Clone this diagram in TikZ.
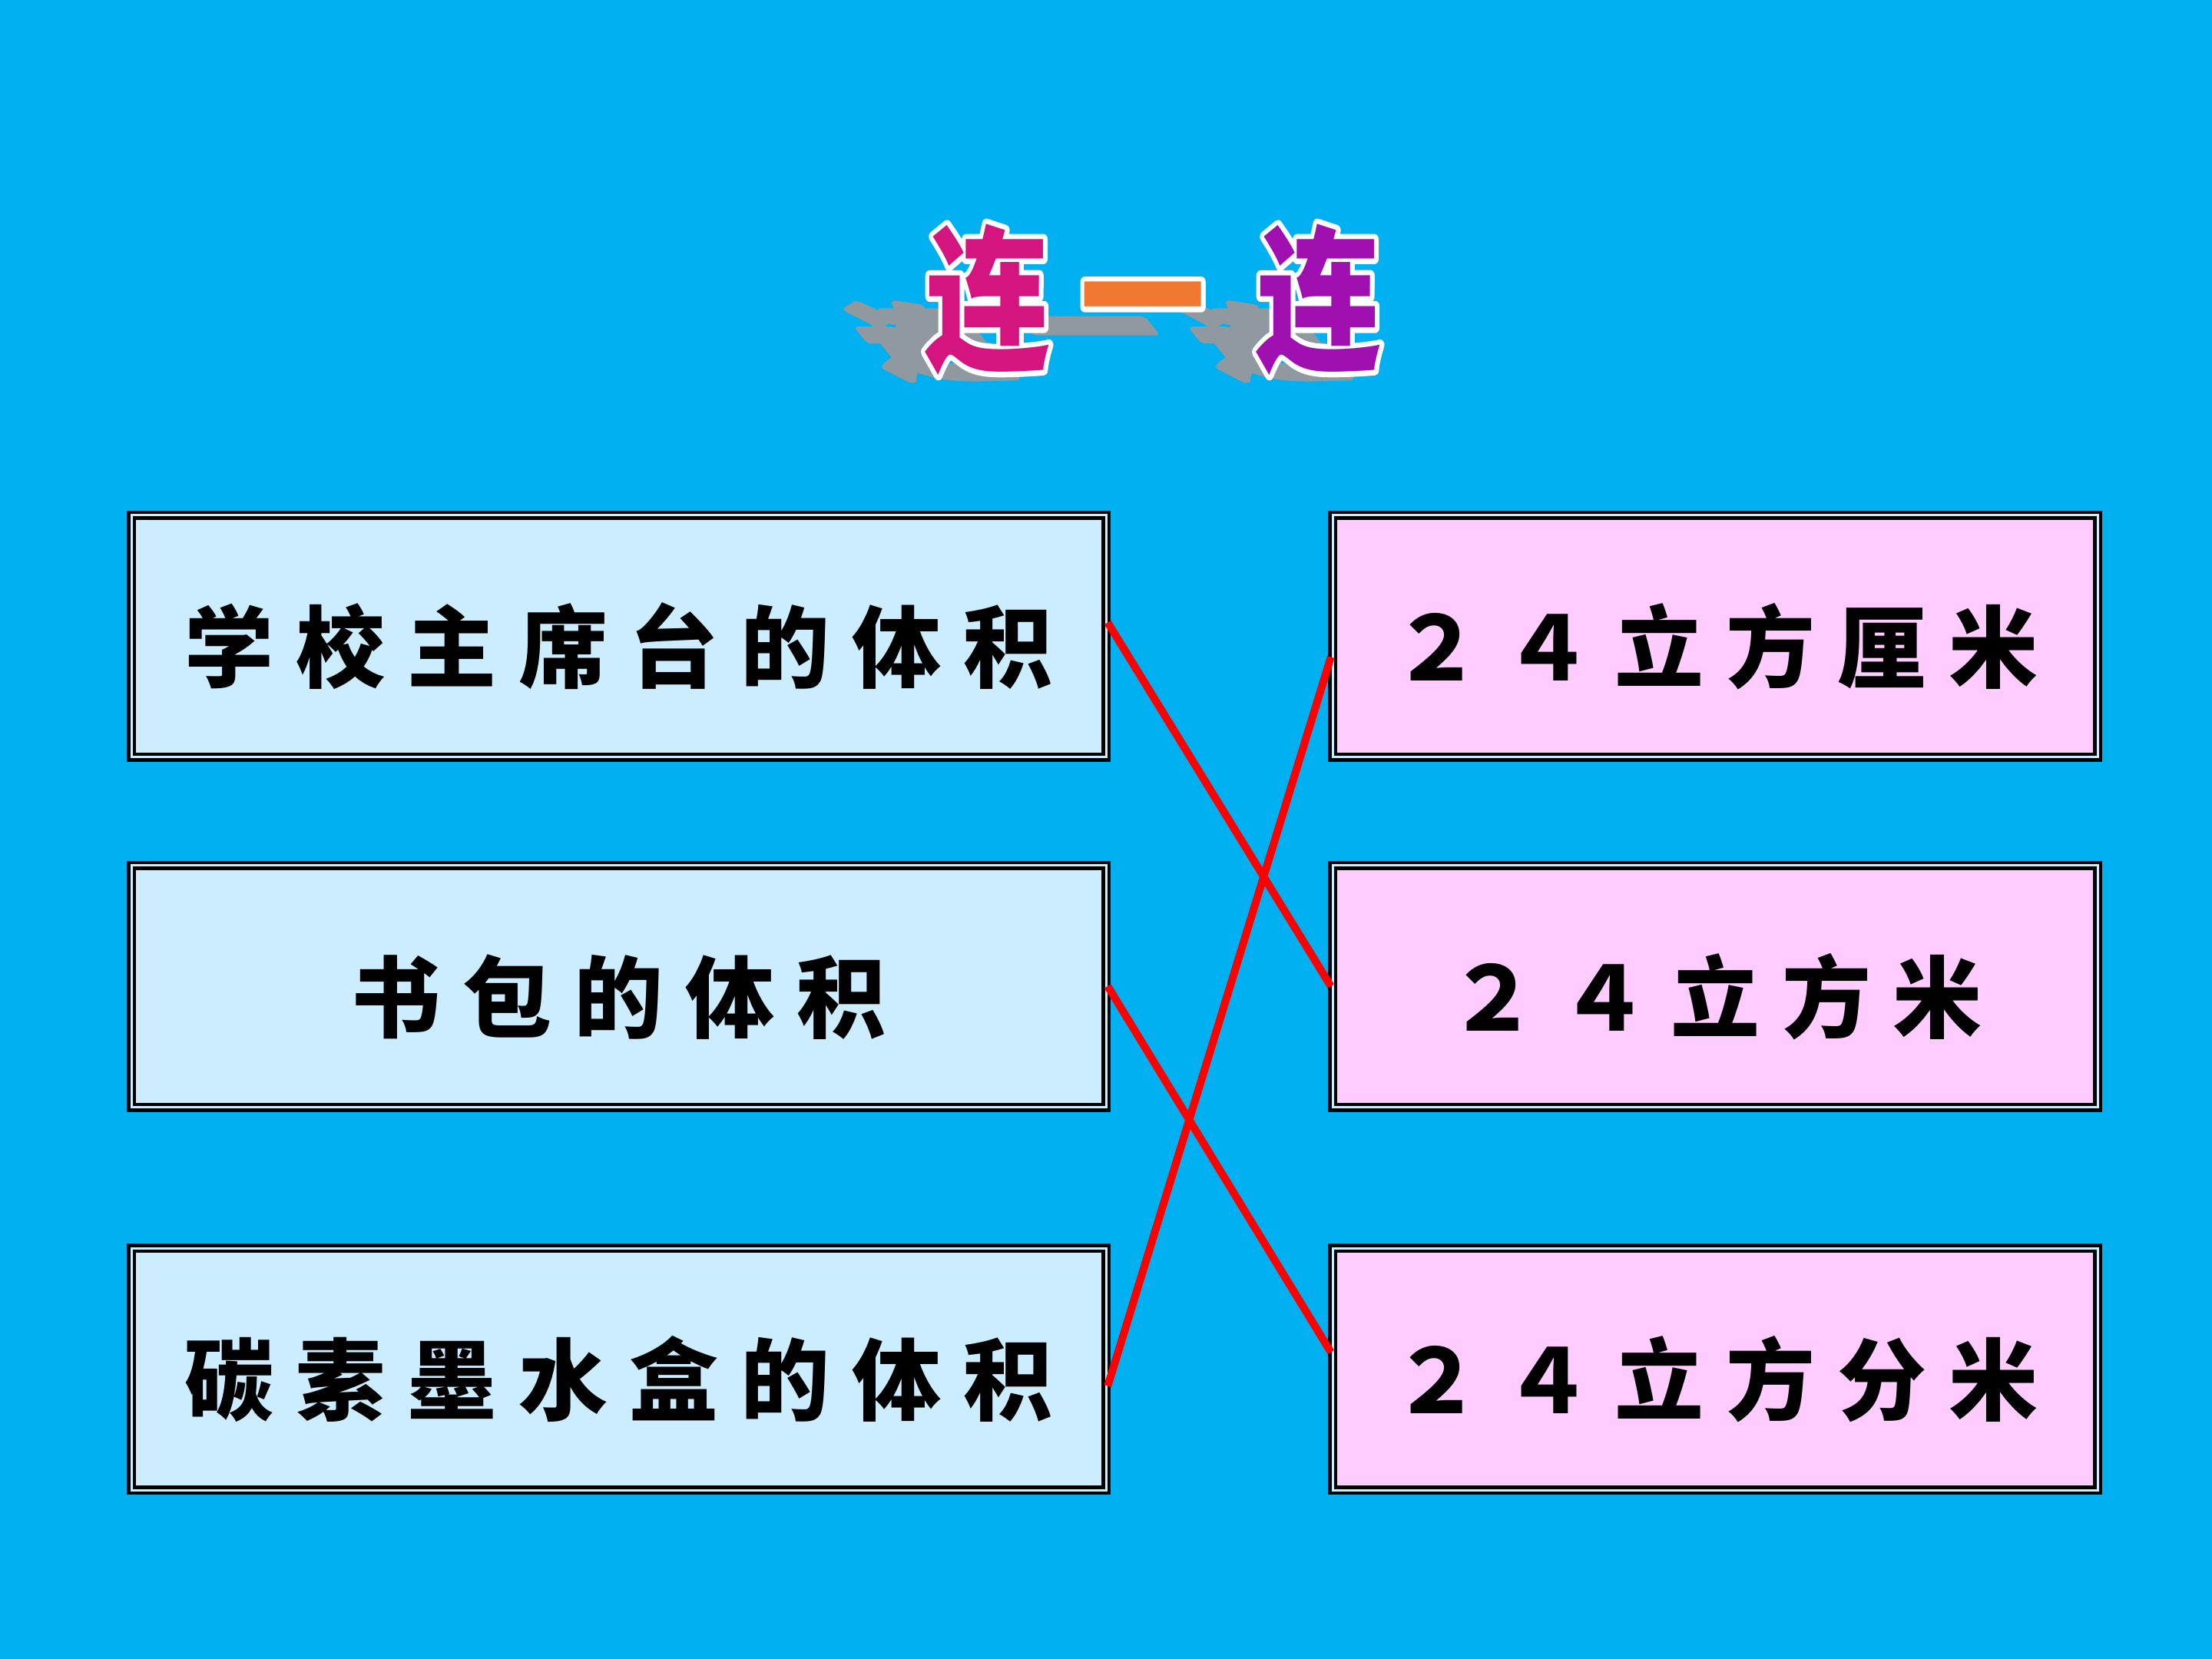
\documentclass[tikz,border=0pt]{standalone}
\usepackage{fontspec}
\usetikzlibrary{calc}
\newfontfamily\cjk[LetterSpace=25]{Noto Sans CJK SC}
\newfontfamily\cjktitle{Noto Sans CJK SC}
\definecolor{sky}{RGB}{0,176,240}
\definecolor{paleblue}{RGB}{204,236,255}
\definecolor{palepink}{RGB}{255,204,255}
\definecolor{linkred}{RGB}{255,0,0}
\definecolor{titlemag}{RGB}{212,21,127}
\definecolor{titleorange}{RGB}{240,120,48}
\definecolor{titlepurple}{RGB}{160,16,176}
\definecolor{shadowgray}{RGB}{144,152,160}
% white rim round the title glyphs: stroked copy under the filled one
\newcommand\rimtext[1]{\rlap{\special{pdf:literal direct q 1 Tr 1 1 1 RG 4 w 1 j}#1\special{pdf:literal direct Q}}#1}
% heavier glyph for the shadow
\newcommand\fattext[1]{\special{pdf:literal direct q 2 Tr 0.565 0.596 0.627 RG 5 w 1 j}#1\special{pdf:literal direct Q}}

\begin{document}
\begin{tikzpicture}[
  leftbox/.style={rectangle, draw=black, line width=0.045cm, double=paleblue, double distance=0.03cm,
    fill=paleblue, minimum width=12.69cm, minimum height=3.15cm, inner sep=0pt,
    text height=1.36cm, text depth=0.2cm,
    font=\cjk\bfseries\fontsize{33}{38}\selectfont},
  rightbox/.style={leftbox, double=paleblue, fill=palepink, minimum width=9.96cm},
  linkline/.style={draw=linkred, line width=0.1cm},
  titlechar/.style={font=\cjktitle\bfseries\fontsize{58}{62}\selectfont, inner sep=0pt,
    xscale=0.8, transform shape},
  titleshadow/.style={titlechar, text=shadowgray, yscale=0.5, xslant=-0.5}
]
  \useasboundingbox (0,0) rectangle (28.8,-21.6);
  \fill[sky] (0,0) rectangle (28.8,-21.6);

  % title with shadow
  \node[titleshadow] (s1) at (12.1,-4.45) {\fattext{连}};
  \node[titleshadow] (s2) at (14.3,-4.4) {\fattext{一}};
  \node[titleshadow] (s3) at (16.45,-4.45) {\fattext{连}};
  \node[titlechar, text=titlemag] (t1) at (12.86,-3.9) {\rimtext{连}};
  \node[titlechar, text=titleorange] (t2) at (14.88,-4.15) {\rimtext{一}};
  \node[titlechar, text=titlepurple] (t3) at (17.17,-3.9) {\rimtext{连}};

  % left column
  \node[leftbox] (school) at (8.055,-8.285) {学校主席台的体积};
  \node[leftbox] (bag) at (8.055,-12.84) {书包的体积\hspace{0.8cm}};
  \node[leftbox] (ink) at (8.055,-17.825) {碳素墨水盒的体积};

  % right column
  \node[rightbox] (cm) at (22.33,-8.285) {２４立方厘米};
  \node[rightbox] (m) at (22.33,-12.84) {２４立方米};
  \node[rightbox] (dm) at (22.33,-17.825) {２４立方分米};

  % answers
  \draw[linkline] ([yshift=0.18cm]school.east) -- (m.west);
  \draw[linkline] (bag.east) -- ([yshift=0.22cm]dm.west);
  \draw[linkline] ([yshift=-0.22cm]ink.east) -- ([yshift=-0.27cm]cm.west);
\end{tikzpicture}
\end{document}
